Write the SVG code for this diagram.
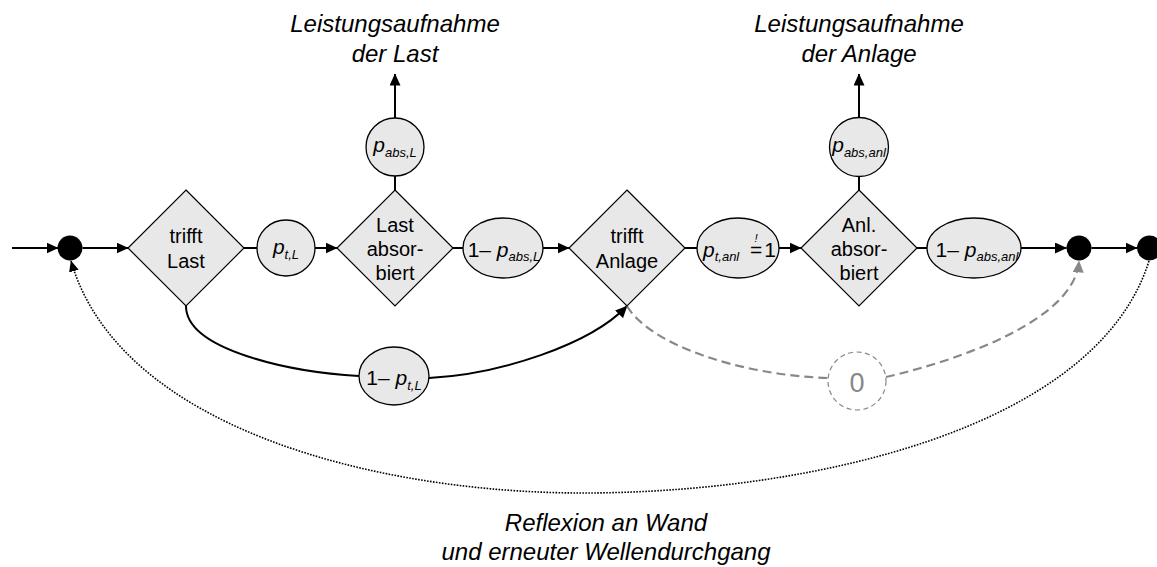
<svg xmlns="http://www.w3.org/2000/svg" width="1157" height="567" viewBox="0 0 1157 567">
<defs>
<marker id="arr" markerUnits="userSpaceOnUse" markerWidth="12" markerHeight="11" refX="11.5" refY="5.5" orient="auto"><path d="M0,0 L12,5.5 L0,11 z" fill="#000"/></marker>
<marker id="arrG" markerUnits="userSpaceOnUse" markerWidth="12" markerHeight="11" refX="11.5" refY="5.5" orient="auto"><path d="M0,0 L12,5.5 L0,11 z" fill="#888"/></marker>
<marker id="arrD" markerUnits="userSpaceOnUse" markerWidth="11" markerHeight="10" refX="10.5" refY="5" orient="auto"><path d="M0,0 L11,5 L0,10 z" fill="#000"/></marker>
</defs>
<style>
.dia{fill:#e8e8e8;stroke:#000;stroke-width:1.2}
.ell{fill:#e8e8e8;stroke:#000;stroke-width:1.3}
.dot{fill:#000}
.c{fill:none;stroke:#000;stroke-width:2}
.dash{fill:none;stroke:#888;stroke-width:2.2;stroke-dasharray:9 5}
.dotted{fill:none;stroke:#000;stroke-width:1.6;stroke-dasharray:1.6 1.4}
text{font-family:"Liberation Sans",Arial,sans-serif;fill:#000}
.t{font-size:20px;text-anchor:middle}
.title{font-size:24px;font-style:italic;text-anchor:middle}
.m{font-size:21px}
.it{font-style:italic}
.s{font-size:13px;font-style:italic}
</style>

<g id="connectors">
<path class="c" d="M12,248 H58" marker-end="url(#arr)"/>
<path class="c" d="M82.5,248 H128" marker-end="url(#arr)"/>
<path class="c" d="M244,248 H257"/>
<path class="c" d="M315,248 H337" marker-end="url(#arr)"/>
<path class="c" d="M453,248 H463"/>
<path class="c" d="M543,248 H569" marker-end="url(#arr)"/>
<path class="c" d="M685,248 H697"/>
<path class="c" d="M779,248 H801" marker-end="url(#arr)"/>
<path class="c" d="M917,248 H927"/>
<path class="c" d="M1021,248 H1066.5" marker-end="url(#arr)"/>
<path class="c" d="M1091.5,248 H1137" marker-end="url(#arr)"/>
<path class="c" d="M395,190 V176"/>
<path class="c" d="M395,118 V74" marker-end="url(#arr)"/>
<path class="c" d="M859,190 V176.5"/>
<path class="c" d="M859,117.5 V74" marker-end="url(#arr)"/>
<path class="c" d="M186,306 C186,350 290,372 359,376"/>
<path class="c" d="M429,378 C500,374 590,345 627,306" marker-end="url(#arr)"/>
<path class="dash" d="M627,306 C650,345 740,375 828,378"/>
<path class="dash" d="M886,377 C960,360 1075,320 1079,261" marker-end="url(#arrG)"/>
<path class="dotted" d="M1149,261 C1096,430 808,493 583,493 C380,493 120,430 71,261" marker-end="url(#arrD)"/>
</g>

<g id="dot-start"><circle class="dot" cx="70" cy="248" r="12.5"/></g>

<g id="trifft-last">
<polygon class="dia" points="186,190 244,248 186,306 128,248"/>
<text class="t" x="186" y="243">trifft</text>
<text class="t" x="186" y="268">Last</text>
</g>

<g id="p-t-L">
<ellipse class="ell" cx="286" cy="248" rx="29" ry="28"/>
<text x="286" y="254" text-anchor="middle"><tspan class="m it">p</tspan><tspan class="s" dy="4.5">t,L</tspan></text>
</g>

<g id="last-absorbiert">
<polygon class="dia" points="395,190 453,248 395,306 337,248"/>
<text class="t" x="395" y="232">Last</text>
<text class="t" x="395" y="256">absor-</text>
<text class="t" x="395" y="280">biert</text>
</g>

<g id="p-abs-L">
<circle class="ell" cx="395" cy="147" r="29"/>
<text x="395" y="151.5" text-anchor="middle"><tspan class="m it">p</tspan><tspan class="s" dy="5">abs,L</tspan></text>
</g>

<g id="title-last">
<text class="title" x="395" y="32">Leistungsaufnahme</text>
<text class="title" x="395" y="62">der Last</text>
</g>

<g id="one-minus-p-abs-L">
<ellipse class="ell" cx="503" cy="248" rx="40" ry="30"/>
<text x="504" y="256.5" text-anchor="middle"><tspan class="m">1– </tspan><tspan class="m it">p</tspan><tspan class="s" dy="4.5">abs,L</tspan></text>
</g>

<g id="trifft-anlage">
<polygon class="dia" points="627,190 685,248 627,306 569,248"/>
<text class="t" x="627" y="243">trifft</text>
<text class="t" x="627" y="268">Anlage</text>
</g>

<g id="p-t-anl">
<ellipse class="ell" cx="738" cy="248" rx="41" ry="30"/>
<text x="703" y="256.5"><tspan class="m it">p</tspan><tspan class="s" dy="4.5">t,anl</tspan></text>
<text x="750" y="257"><tspan class="m">=</tspan><tspan class="it" font-size="11.5" dx="-7.8" dy="-15.5">!</tspan></text>
<text class="m" x="770" y="256.5" text-anchor="middle">1</text>
</g>

<g id="anl-absorbiert">
<polygon class="dia" points="859,190 917,248 859,306 801,248"/>
<text class="t" x="859" y="232">Anl.</text>
<text class="t" x="859" y="256">absor-</text>
<text class="t" x="859" y="280">biert</text>
</g>

<g id="p-abs-anl">
<circle class="ell" cx="859" cy="147" r="29.5"/>
<text x="859" y="151.5" text-anchor="middle"><tspan class="m it">p</tspan><tspan class="s" dy="5">abs,anl</tspan></text>
</g>

<g id="title-anlage">
<text class="title" x="859" y="32">Leistungsaufnahme</text>
<text class="title" x="859" y="62">der Anlage</text>
</g>

<g id="one-minus-p-abs-anl">
<ellipse class="ell" cx="974" cy="248" rx="47" ry="30"/>
<text x="977" y="256.5" text-anchor="middle"><tspan class="m">1– </tspan><tspan class="m it">p</tspan><tspan class="s" dy="4.5">abs,anl</tspan></text>
</g>

<g id="dot-mid"><circle class="dot" cx="1079" cy="248" r="12.5"/></g>
<g id="dot-end"><circle class="dot" cx="1149.5" cy="248" r="12.5"/></g>

<g id="one-minus-p-t-L">
<ellipse class="ell" cx="394" cy="376" rx="35" ry="29"/>
<text x="394" y="385" text-anchor="middle"><tspan class="m">1– </tspan><tspan class="m it">p</tspan><tspan class="s" dy="4.5">t,L</tspan></text>
</g>

<g id="zero">
<circle cx="857" cy="381" r="29" fill="none" stroke="#888" stroke-width="1.2" stroke-dasharray="5 3.5"/>
<text x="857" y="391.5" font-size="27" text-anchor="middle" style="fill:#888">0</text>
</g>

<g id="title-reflexion">
<text class="title" x="606" y="531">Reflexion an Wand</text>
<text class="title" x="606" y="560">und erneuter Wellendurchgang</text>
</g>
</svg>
